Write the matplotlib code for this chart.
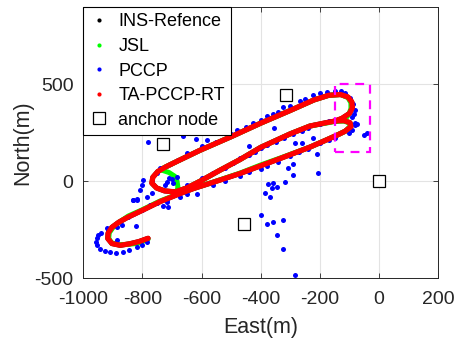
import matplotlib
matplotlib.use("Agg")
import matplotlib.pyplot as plt
from matplotlib.lines import Line2D
from matplotlib.patches import Rectangle

plt.rcParams['font.family'] = ['Liberation Sans', 'DejaVu Sans']
plt.rcParams['axes.unicode_minus'] = False

# ---------------- data (East, North in metres) ----------------
ref_east = [-781, -812, -842, -875, -903, -917, -916, -903, -880, -852, -800, -740, -680,
            -628, -560, -470, -400, -330, -234, -180, -142, -115, -95, -98, -118, -145,
            -180, -234, -300, -400, -470, -540, -605, -650, -690, -725, -752, -768, -765,
            -748, -720, -680, -605, -500, -400, -301, -220, -170, -130, -105, -92, -90,
            -100, -125, -150]
ref_north = [-295, -312, -323, -331, -322, -296, -268, -238, -212, -188, -150, -105, -68,
             -38, -5, 40, 80, 120, 176, 212, 238, 258, 282, 302, 313, 312,
             302, 285, 245, 175, 112, 55, 0, -35, -55, -50, -35, -10, 20,
             50, 75, 105, 160, 230, 300, 365, 420, 444, 448, 435, 410, 380,
             350, 325, 310]

jsl_east = [-781, -815, -848, -878, -905, -914, -912, -898, -875, -848, -800, -740, -680,
            -628, -560, -470, -400, -330, -234, -180, -142, -112, -98, -100, -120, -145,
            -180, -234, -300, -400, -470, -540, -605, -650, -683, -680, -683, -690, -710,
            -740, -720, -680, -605, -500, -400, -301, -220, -170, -130, -105, -95, -95,
            -102, -110, -140]
jsl_north = [-300, -321, -326, -328, -318, -294, -266, -236, -208, -180, -147, -102, -66,
             -37, -4, 42, 84, 122, 176, 212, 238, 260, 284, 302, 311, 310,
             300, 285, 245, 175, 112, 55, 0, -35, -55, -30, 0, 25, 45,
             60, 75, 105, 160, 230, 300, 365, 420, 444, 448, 432, 405, 375,
             345, 330, 312]

pccp_east = [-786, -800, -820, -845, -865, -888, -910, -926, -944, -952, -958, -955, -950,
             -940, -920, -887, -870, -848, -831, -800, -775, -750, -718, -673, -650, -617,
             -801, -808, -832, -820, -785, -768, -717, -700, -717, -713, -730,
             -769, -752, -740, -707, -680, -650, -600, -583, -550, -500, -480, -450, -425,
             -400, -380, -360, -340, -324, -300, -268, -250, -223, -200, -177, -150, -130,
             -115, -98, -88, -82, -85, -92, -82, -82, -92, -100, -50, -40, -76,
             -650, -600, -560, -520, -493, -470, -440, -420, -400, -380, -350, -320, -290,
             -260, -240, -200, -170,
             -560, -520, -470, -440, -400, -380, -340, -300, -270, -240, -200, -170, -150,
             -284, -326, -346, -326, -358, -380, -400, -385, -369, -375, -358, -346, -363,
             -318, -292, -307, -290, -206, -211, -284, -262, -223, -355, -439, -780, -664,
             -619, -797, -820, -831, -822, -887, -915, -709, -682, -696, -722]
pccp_north = [-314, -330, -340, -355, -366, -372, -366, -360, -348, -330, -312, -295, -279,
              -265, -243, -236, -225, -186, -167, -150, -124, -115, -98, -81, -65, -64,
              -21, -47, -98, -98, -83, -62, -5, 10, -109, -134, -126,
              -3, 40, 70, 91, 110, 145, 180, 212, 205, 245, 265, 280, 300,
              315, 335, 345, 360, 385, 390, 415, 425, 445, 455, 462, 466, 465,
              455, 429, 400, 370, 345, 331, 300, 290, 264, 250, 238, 248, 298,
              -20, 15, 40, 70, 95, 120, 135, 150, 170, 185, 205, 225, 245,
              262, 275, 295, 310,
              -20, 0, 25, 50, 65, 80, 100, 130, 150, 165, 195, 215, 225,
              -486, -348, -279, -198, -210, -219, -172, -60, -81, -16, -9, -29, -33,
              -3, 31, 66, 91, 43, 143, 198, 195, 221, 276, 184, 203, 233,
              216, 5, -93, -98, -233, -305, -250, 17, 22, -9, -22]

anchor_east = [-316, -730, -455, 0]
anchor_north = [445, 190, -220, 0]

box_east = [-150, -30]
box_north = [150, 500]

x_ticks = [-1000, -800, -600, -400, -200, 0, 200]
y_ticks = [-500, 0, 500]

# ---------------- figure ----------------
fig = plt.figure(figsize=(4.55, 3.43), dpi=100)
ax = fig.add_axes([0.183, 0.1895, 0.780, 0.790])

ax.plot(ref_east, ref_north, color='black', lw=3.6, solid_capstyle='round', zorder=2)
ax.plot(jsl_east, jsl_north, color=(0, 1, 0), lw=3.6, solid_capstyle='round', zorder=3)
ax.plot(pccp_east, pccp_north, linestyle='none', marker='o', ms=3.6,
        color=(0, 0, 1), markeredgewidth=0, zorder=4)
ax.plot(ref_east, ref_north, color=(1, 0, 0), lw=3.8, solid_capstyle='round',
        solid_joinstyle='round', zorder=5)
ax.plot(anchor_east, anchor_north, linestyle='none', marker='s', ms=8.5,
        markerfacecolor='white', markeredgecolor='black', markeredgewidth=0.9, zorder=6)

rect = Rectangle((box_east[0], box_north[0]), box_east[1] - box_east[0],
                 box_north[1] - box_north[0], fill=False, edgecolor=(1, 0, 1),
                 linestyle=(0, (4, 3)), lw=1.6, zorder=7)
ax.add_patch(rect)

ax.set_xlim(-1000, 200)
ax.set_ylim(-500, 900)
ax.set_xticks(x_ticks)
ax.set_yticks(y_ticks)
ax.grid(True, color='#e3e3e3', lw=0.8)
ax.set_axisbelow(True)
ax.tick_params(direction='in', top=True, right=True, length=3.5, width=0.6,
               labelsize=14, colors='#262626')
ax.tick_params(axis='x', pad=9)
ax.tick_params(axis='y', pad=7)
for sp in ax.spines.values():
    sp.set_color('#262626')
    sp.set_linewidth(0.7)

ax.set_xlabel('East(m)', fontsize=15.5, color='#262626', labelpad=7)
ax.set_ylabel('North(m)', fontsize=15.5, color='#262626', labelpad=1)

handles = [
    Line2D([], [], linestyle='none', marker='o', ms=3, color='black', markeredgewidth=0),
    Line2D([], [], linestyle='none', marker='o', ms=3, color=(0, 1, 0), markeredgewidth=0),
    Line2D([], [], linestyle='none', marker='o', ms=3, color=(0, 0, 1), markeredgewidth=0),
    Line2D([], [], linestyle='none', marker='o', ms=3, color=(1, 0, 0), markeredgewidth=0),
    Line2D([], [], linestyle='none', marker='s', ms=8.5, markerfacecolor='white',
           markeredgecolor='black', markeredgewidth=0.9),
]
labels = ['INS-Refence', 'JSL', 'PCCP', 'TA-PCCP-RT', 'anchor node']
leg = ax.legend(handles, labels, loc='upper left', bbox_to_anchor=(0, 1),
                borderaxespad=0, fontsize=13, frameon=True, fancybox=False,
                framealpha=1, edgecolor='black', handlelength=1.0, handletextpad=0.6,
                borderpad=0.35, labelspacing=0.42)
leg.get_frame().set_linewidth(0.8)
leg.set_zorder(10)

fig.savefig('out.png', dpi=100)
